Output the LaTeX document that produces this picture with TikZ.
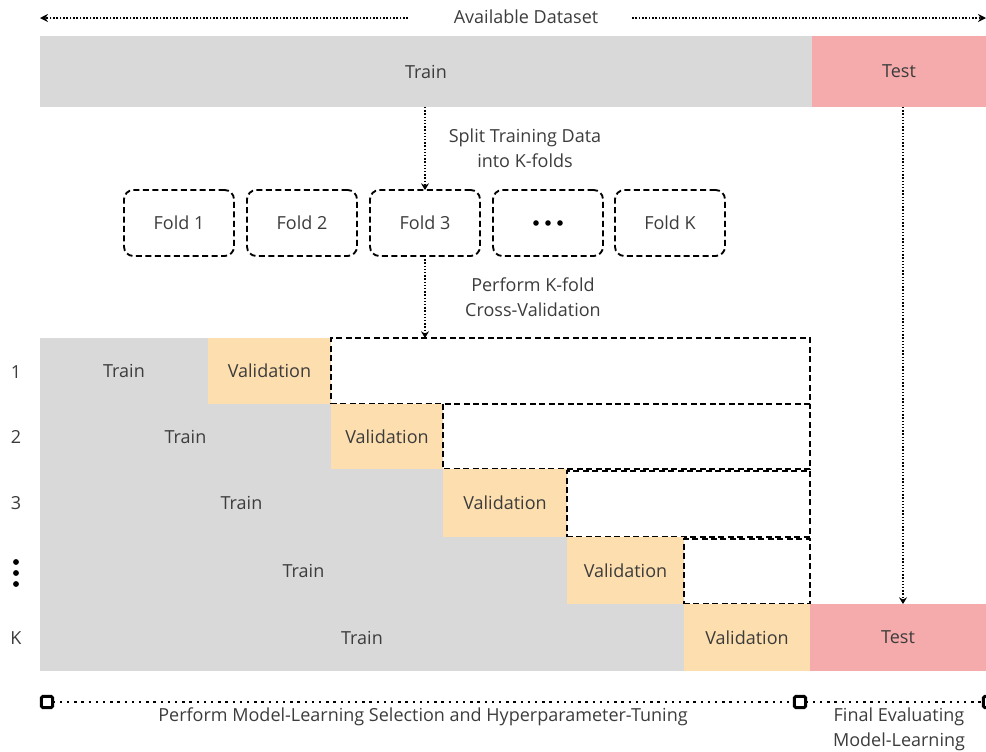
\documentclass[tikz,border=0pt]{standalone}
\usepackage{fontspec}
\setmainfont{Open Sans}
\usetikzlibrary{arrows.meta}

\definecolor{traingray}{HTML}{D9D9D9}
\definecolor{testpink}{HTML}{F5ABAB}
\definecolor{valorange}{HTML}{FDDEAE}
\definecolor{ink}{HTML}{3C3C3C}

% block from (x1,y1) to (x2,y2) in pixel-like units
\newcommand\cellbox[7]{%
  \node[#6, anchor=north west, minimum width={(#4-#2)*0.75pt},
        minimum height={(#5-#3)*0.75pt}] (#1) at (#2,#3) {#7};}

\begin{document}
\begin{tikzpicture}[x=0.75pt, y=-0.75pt,
    every node/.style={text=ink, font=\fontsize{13.5}{19}\selectfont},
    base/.style={inner sep=0pt, outer sep=0pt},
    trn/.style={base, fill=traingray},
    tst/.style={base, fill=testpink},
    val/.style={base, fill=valorange},
    dashes/.style={draw=black, line width=1.4pt, dash pattern=on 4.5pt off 2.6pt},
    rest/.style={base, dashes},
    restopen/.style={base},
    fold/.style={base, dashes, rounded corners=7pt,
                 minimum width=110*0.75pt, minimum height=66*0.75pt},
    dotline/.style={line width=1.3pt, dash pattern=on 1.2pt off 1.3pt, draw=black},
    flow/.style={line width=1.1pt, dash pattern=on 1.1pt off 1.3pt, draw=black,
                 -{Stealth[length=5pt,width=6pt]}},
    endmark/.style={base, draw=black, line width=2.2pt, fill=white, rounded corners=1.2pt,
                 minimum width=8.5pt, minimum height=8.5pt},
    phase/.style={draw=black, line width=2pt, dash pattern=on 1.8pt off 3.6pt},
    lbl/.style={align=center, inner sep=0pt}
  ]
\useasboundingbox (0,0) rectangle (986,751);

% --- whole dataset -------------------------------------------------------
\node[lbl] (ds) at (526,17) {Available Dataset};
\coordinate (dsL) at (40,18);
\coordinate (dsLend) at (408,18);
\coordinate (dsRbeg) at (632,18);
\coordinate (dsR) at (986,18);
\draw[dotline, -{Stealth[length=6pt,width=6pt]}] (dsLend) -- (dsL);
\draw[dotline, -{Stealth[length=6pt,width=6pt]}] (dsRbeg) -- (dsR);

\cellbox{train}{40}{36}{812}{107}{trn}{Train}
\cellbox{test}{812}{36}{986}{107}{tst}{Test}

% --- split into folds ----------------------------------------------------
\node[lbl] (splitlbl) at (525,148) {Split Training Data\\into K-folds};

\node[fold] (f1) at (179,223) {Fold 1};
\node[fold] (f2) at (302,223) {Fold 2};
\node[fold] (f3) at (425,223) {Fold 3};
\node[fold] (fdots) at (548,223) {};
\node[fold] (fk) at (670,223) {Fold K};
\foreach \dx in {-12,0,12}
  \fill[black] (fdots.center) ++(\dx,0) circle (2.1pt);

\draw[flow] (train.south -| f3.north) -- (f3.north);

\node[lbl] (cvlbl) at (533,297) {Perform K-fold\\Cross-Validation};

% --- cross-validation rounds -------------------------------------------
\cellbox{t1}{40}{338}{208}{404}{trn}{Train}
\cellbox{v1}{208}{338}{331}{404}{val}{Validation}
\cellbox{e1}{331}{338}{810}{404}{rest}{}

\cellbox{t2}{40}{404}{331}{469}{trn}{Train}
\cellbox{v2}{331}{404}{443}{469}{val}{Validation}
\cellbox{e2}{443}{404}{810}{469}{restopen}{}
% its top edge is the bottom edge of the round above
\draw[dashes] (e2.north west) -- (e2.south west) -- (e2.south east) -- (e2.north east);

\cellbox{t3}{40}{469}{443}{537}{trn}{Train}
\cellbox{v3}{443}{469}{567}{537}{val}{Validation}
\cellbox{e3}{567}{471}{810}{537}{rest}{}

\cellbox{t4}{40}{537}{567}{604}{trn}{Train}
\cellbox{v4}{567}{537}{684}{604}{val}{Validation}
\cellbox{e4}{684}{539}{810}{604}{rest}{}

\cellbox{t5}{40}{604}{684}{671}{trn}{Train}
\cellbox{v5}{684}{604}{810}{671}{val}{Validation}
\cellbox{testk}{810}{604}{986}{671}{tst}{Test}

\draw[flow] (f3.south) -- (f3.south |- e1.north);
\draw[flow] (test.south -| 903,0) -- (testk.north -| 903,0);

% round numbers
\node (r1) at (16,372) {1};
\node (r2) at (16,437) {2};
\node (r3) at (16,503) {3};
\coordinate (r4) at (16,573);
\foreach \dy in {-11,0,11}
  \fill[black] (r4) ++(0,\dy) circle (2.2pt);
\node (r5) at (16,638) {K};

% --- bottom phases -------------------------------------------------------
\node[endmark] (m1) at (47,702) {};
\node[endmark] (m2) at (800,702) {};
\node[endmark] (m3) at (989,702) {};
\draw[phase] (m1) -- (m2);
\draw[phase] (m2) -- (m3);

\node[lbl] (tunelbl) at (423,717) {Perform Model-Learning Selection and Hyperparameter-Tuning};
\node[lbl] (evallbl) at (899,729) {Final Evaluating\\Model-Learning};
\end{tikzpicture}
\end{document}
